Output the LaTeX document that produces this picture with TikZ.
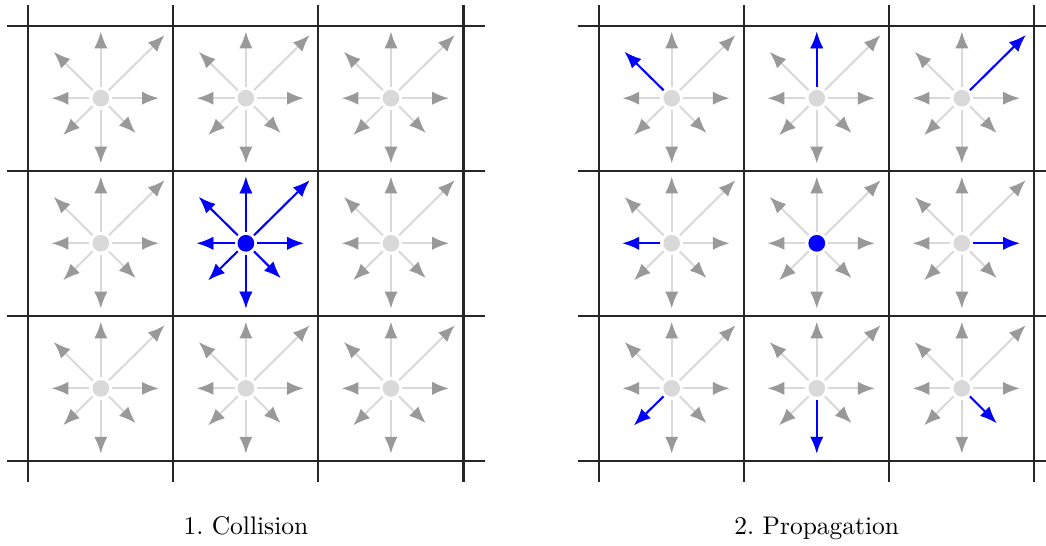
\documentclass[tikz,border=0pt]{standalone}
\usepackage{tikz}
\usetikzlibrary{arrows.meta,calc}

% the eight populations of one site
\newcommand{\popdirs}{0.8/0, -0.68/0, 0/0.92, 0/-0.9, 0.88/0.87, -0.65/0.64, -0.52/-0.51, 0.48/-0.48}

\begin{document}
\begin{tikzpicture}[
    lattice/.style={draw=black!85, thick},
    site/.style={circle, fill=black!15, minimum size=0.23cm, inner sep=0pt},
    hot/.style={circle, fill=blue, minimum size=0.23cm, inner sep=0pt},
    pop/.style={draw=black!15, thick, -{Latex[length=6.6pt, width=5.2pt, color=black!40]}, shorten <=1pt},
    post/.style={draw=blue, thick, -{Latex[length=6.6pt, width=5.2pt, color=blue]}, shorten <=1pt}
]
\useasboundingbox (-0.39,-1.17) rectangle (14.03,6.354);

% Collision
\begin{scope}
    \foreach \i in {0,2,4,6} {
        \draw[lattice] (\i,-0.29) -- (\i,6.29);
        \draw[lattice] (-0.29,\i) -- (6.29,\i);
    }
    \foreach \c in {0,1,2} {
        \foreach \r in {0,1,2} {
            \node[site] (a\c\r) at (2*\c+1, 2*\r+1) {};
            \foreach \dx/\dy in \popdirs
                \draw[pop] (a\c\r) -- ++(\dx,\dy);
        }
    }
    \node[hot] (ac) at (a11) {};
    \foreach \dx/\dy in \popdirs
        \draw[post] (ac) -- ++(\dx,\dy);

    \node[anchor=base] (capa) at (3,-1.02) {1.\ Collision};
\end{scope}

% Propagation
\begin{scope}[xshift=7.87cm]
    \foreach \i in {0,2,4,6} {
        \draw[lattice] (\i,-0.29) -- (\i,6.29);
        \draw[lattice] (-0.29,\i) -- (6.29,\i);
    }
    \foreach \c in {0,1,2} {
        \foreach \r in {0,1,2} {
            \node[site] (b\c\r) at (2*\c+1, 2*\r+1) {};
            \foreach \dx/\dy in \popdirs
                \draw[pop] (b\c\r) -- ++(\dx,\dy);
        }
    }
    \node[hot] (bc) at (b11) {};

    % streamed populations in the neighbours
    \foreach \c/\r/\dx/\dy in {0/2/-0.65/0.64, 1/2/0/0.92, 2/2/0.88/0.87,
                              0/1/-0.68/0, 2/1/0.8/0,
                              0/0/-0.52/-0.51, 1/0/0/-0.9, 2/0/0.48/-0.48}
        \draw[post] (b\c\r) -- ++(\dx,\dy);

    \node[anchor=base] (capb) at (3,-1.02) {2.\ Propagation};
\end{scope}
\end{tikzpicture}
\end{document}
